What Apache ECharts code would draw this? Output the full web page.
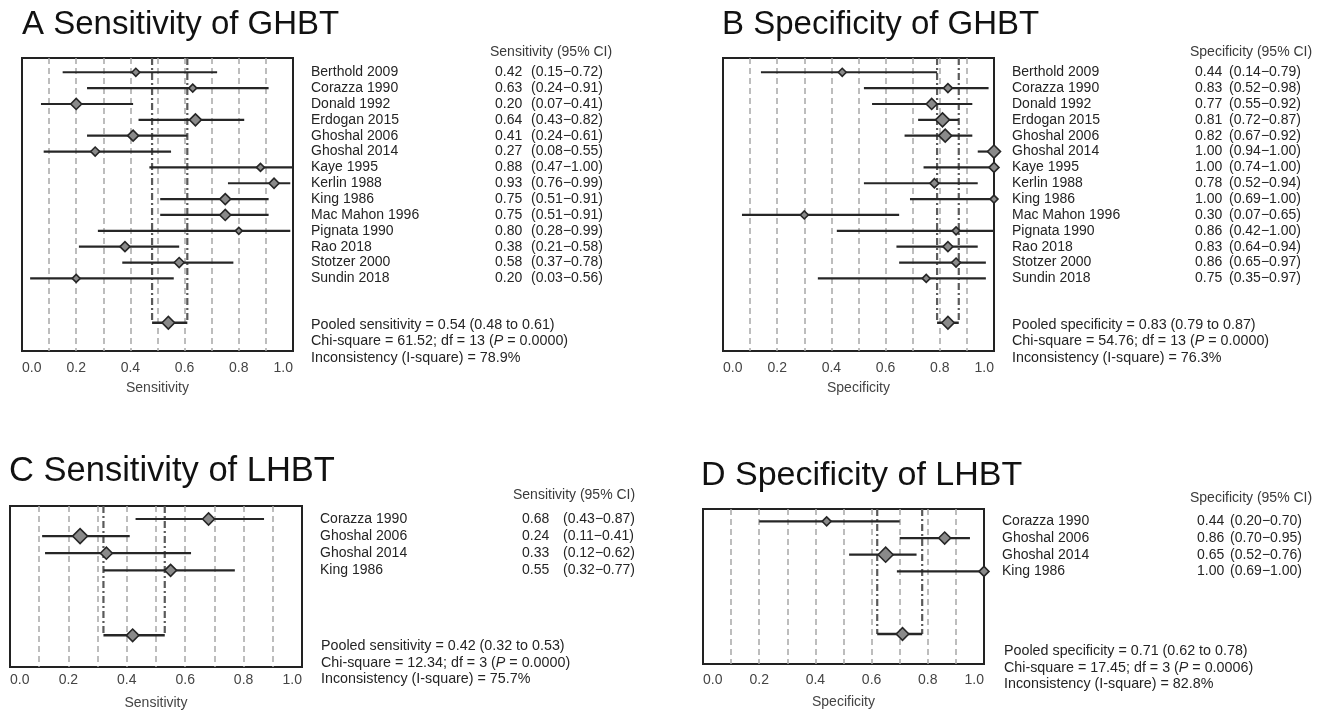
<!DOCTYPE html>
<html>
<head>
<meta charset="utf-8">
<script src="https://cdn.jsdelivr.net/npm/echarts@6/dist/echarts.min.js"></script>
<style>
  html, body { margin: 0; padding: 0; background: #fff; }
  #main { width: 1333px; height: 714px; }
</style>
</head>
<body>
<div id="main"></div>
<script>
// GHBT studies (panels A and B)
const studiesGHBT = ['Berthold 2009', 'Corazza 1990', 'Donald 1992', 'Erdogan 2015', 'Ghoshal 2006',
  'Ghoshal 2014', 'Kaye 1995', 'Kerlin 1988', 'King 1986', 'Mac Mahon 1996', 'Pignata 1990',
  'Rao 2018', 'Stotzer 2000', 'Sundin 2018'];
const sensGHBT = [0.42, 0.63, 0.20, 0.64, 0.41, 0.27, 0.88, 0.93, 0.75, 0.75, 0.80, 0.38, 0.58, 0.20];
const sensGHBTLow = [0.15, 0.24, 0.07, 0.43, 0.24, 0.08, 0.47, 0.76, 0.51, 0.51, 0.28, 0.21, 0.37, 0.03];
const sensGHBTHigh = [0.72, 0.91, 0.41, 0.82, 0.61, 0.55, 1.00, 0.99, 0.91, 0.91, 0.99, 0.58, 0.78, 0.56];
const sensGHBTWeight = [1, 1, 2.5, 3, 2.5, 1.5, 1, 2, 2.5, 2.5, 0.5, 2, 2, 1];
const specGHBT = [0.44, 0.83, 0.77, 0.81, 0.82, 1.00, 1.00, 0.78, 1.00, 0.30, 0.86, 0.83, 0.86, 0.75];
const specGHBTLow = [0.14, 0.52, 0.55, 0.72, 0.67, 0.94, 0.74, 0.52, 0.69, 0.07, 0.42, 0.64, 0.65, 0.35];
const specGHBTHigh = [0.79, 0.98, 0.92, 0.87, 0.92, 1.00, 1.00, 0.94, 1.00, 0.65, 1.00, 0.94, 0.97, 0.97];
const specGHBTWeight = [1, 1.5, 2.5, 4, 3.5, 3.5, 2, 1.5, 1, 1, 1, 2, 1.5, 1];

// LHBT studies (panels C and D)
const studiesLHBT = ['Corazza 1990', 'Ghoshal 2006', 'Ghoshal 2014', 'King 1986'];
const sensLHBT = [0.68, 0.24, 0.33, 0.55];
const sensLHBTLow = [0.43, 0.11, 0.12, 0.32];
const sensLHBTHigh = [0.87, 0.41, 0.62, 0.77];
const sensLHBTWeight = [3, 4.5, 3, 3];
const specLHBT = [0.44, 0.86, 0.65, 1.00];
const specLHBTLow = [0.20, 0.70, 0.52, 0.69];
const specLHBTHigh = [0.70, 0.95, 0.76, 1.00];
const specLHBTWeight = [1.5, 3, 4.5, 2];

// pooled estimate, lower, upper
const pooledA = [0.54, 0.48, 0.61];
const pooledB = [0.83, 0.79, 0.87];
const pooledC = [0.42, 0.32, 0.53];
const pooledD = [0.71, 0.62, 0.78];
// chi-square, df, P, I-square
const statsA = ['61.52', 13, '0.0000', '78.9'];
const statsB = ['54.76', 13, '0.0000', '76.3'];
const statsC = ['12.34', 3, '0.0000', '75.7'];
const statsD = ['17.45', 3, '0.0006', '82.8'];

const xTicks = [0, 0.2, 0.4, 0.6, 0.8, 1.0];

const FONT = "'Liberation Sans', Arial, Helvetica, sans-serif";
const INK = '#262626';
const TXT = '#242424';

const panels = [
  { title: 'A Sensitivity of GHBT', measure: 'Sensitivity', names: studiesGHBT,
    est: sensGHBT, lo: sensGHBTLow, hi: sensGHBTHigh, w: sensGHBTWeight, pooled: pooledA, stats: statsA,
    grid: { left: 22, top: 58, width: 271, height: 293 }, yMin: -0.9, yMax: 17.58, pooledRow: 15.8,
    titlePos: [22, 25], titleSize: 33, labelMargin: 10, nameGap: 30, nameW: 184, valW: 36,
    headPos: [490, 52], sumPos: [311, 325], sumStep: 16.5 },
  { title: 'B Specificity of GHBT', measure: 'Specificity', names: studiesGHBT,
    est: specGHBT, lo: specGHBTLow, hi: specGHBTHigh, w: specGHBTWeight, pooled: pooledB, stats: statsB,
    grid: { left: 723, top: 58, width: 271, height: 293 }, yMin: -0.9, yMax: 17.58, pooledRow: 15.8,
    titlePos: [722, 25], titleSize: 33, labelMargin: 10, nameGap: 30, nameW: 183, valW: 34,
    headPos: [1190, 52], sumPos: [1012, 325], sumStep: 16.5 },
  { title: 'C Sensitivity of LHBT', measure: 'Sensitivity', names: studiesLHBT,
    est: sensLHBT, lo: sensLHBTLow, hi: sensLHBTHigh, w: sensLHBTWeight, pooled: pooledC, stats: statsC,
    grid: { left: 10, top: 506, width: 292, height: 161 }, yMin: -0.76, yMax: 8.65, pooledRow: 6.8,
    titlePos: [9, 471], titleSize: 34.5, labelMargin: 6, nameGap: 29, nameW: 202, valW: 41,
    headPos: [513, 495], sumPos: [321, 646.5], sumStep: 16.3 },
  { title: 'D Specificity of LHBT', measure: 'Specificity', names: studiesLHBT,
    est: specLHBT, lo: specLHBTLow, hi: specLHBTHigh, w: specLHBTWeight, pooled: pooledD, stats: statsD,
    grid: { left: 703, top: 509, width: 281, height: 155 }, yMin: -0.74, yMax: 8.55, pooledRow: 6.75,
    titlePos: [701, 476], titleSize: 34, labelMargin: 9, nameGap: 31, nameW: 195, valW: 33,
    headPos: [1190, 498], sumPos: [1004, 651.5], sumStep: 16.3 }
];

const fmt = v => v.toFixed(2);

function diamond(c, h) {
  return [[c[0] - h, c[1]], [c[0], c[1] - h], [c[0] + h, c[1]], [c[0], c[1] + h]];
}

function textAt(x, y, text) {
  return { type: 'text', x: x, y: y,
    style: { text: text, font: '14px ' + FONT, fill: TXT, verticalAlign: 'middle' } };
}

function studyRenderer(p) {
  return function (params, api) {
    const i = params.dataIndex;
    const row = api.value(3);
    const pL = api.coord([api.value(1), row]);
    const pR = api.coord([api.value(2), row]);
    const c = api.coord([api.value(0), row]);
    const edge = api.coord([1, row]);
    const h = 3 + api.value(4);
    const tx = edge[0] + 18;
    return {
      type: 'group',
      children: [
        { type: 'line', shape: { x1: pL[0], y1: pL[1], x2: pR[0], y2: pR[1] },
          style: { stroke: INK, lineWidth: 2.2 } },
        { type: 'polygon', shape: { points: diamond(c, h) },
          style: { fill: '#8a8a8a', stroke: INK, lineWidth: 1.6 } },
        textAt(tx, c[1], p.names[i]),
        textAt(tx + p.nameW, c[1], fmt(api.value(0))),
        textAt(tx + p.nameW + p.valW, c[1], '(' + fmt(api.value(1)) + '\u2212' + fmt(api.value(2)) + ')')
      ]
    };
  };
}

function pooledItem(params, api) {
  const row = api.value(3);
  const top = api.value(4);
  const pL = api.coord([api.value(1), row]);
  const pR = api.coord([api.value(2), row]);
  const tL = api.coord([api.value(1), top]);
  const tR = api.coord([api.value(2), top]);
  const c = api.coord([api.value(0), row]);
  const dash = { stroke: '#5a5a5a', lineWidth: 2.2, lineDash: [7, 3, 2, 3] };
  return {
    type: 'group',
    children: [
      { type: 'line', shape: { x1: tL[0], y1: tL[1], x2: pL[0], y2: pL[1] }, style: dash },
      { type: 'line', shape: { x1: tR[0], y1: tR[1], x2: pR[0], y2: pR[1] }, style: dash },
      { type: 'line', shape: { x1: pL[0], y1: pL[1], x2: pR[0], y2: pR[1] },
        style: { stroke: INK, lineWidth: 2.5 } },
      { type: 'polygon', shape: { points: diamond(c, 6.3) },
        style: { fill: '#8a8a8a', stroke: INK, lineWidth: 1.6 } }
    ]
  };
}

const grid = [], xAxis = [], yAxis = [], series = [], graphic = [];

panels.forEach((p, k) => {
  grid.push(Object.assign({ show: true, borderColor: '#222', borderWidth: 2, backgroundColor: 'transparent' }, p.grid));
  xAxis.push({
    type: 'value', gridIndex: k, min: 0, max: 1, interval: 0.1,
    name: p.measure, nameLocation: 'middle', nameGap: p.nameGap,
    nameTextStyle: { fontFamily: FONT, fontSize: 14, color: '#444' },
    axisLine: { show: false }, axisTick: { show: false },
    axisLabel: {
      margin: p.labelMargin, fontFamily: FONT, fontSize: 14, color: '#444',
      alignMinLabel: 'left', alignMaxLabel: 'right',
      formatter: v => xTicks.some(t => Math.abs(t - v) < 1e-6) ? v.toFixed(1) : ''
    },
    splitLine: { show: true, showMinLine: false, showMaxLine: false,
      lineStyle: { color: '#a8a8a8', width: 1.5, type: [6, 4] } }
  });
  yAxis.push({ type: 'value', gridIndex: k, inverse: true, min: p.yMin, max: p.yMax, show: false });

  series.push({
    type: 'custom', xAxisIndex: k, yAxisIndex: k, silent: true, z: 3, clip: false,
    renderItem: studyRenderer(p), encode: { x: [0, 1, 2], y: 3 },
    data: p.names.map((n, i) => [p.est[i], p.lo[i], p.hi[i], i, p.w[i]])
  });
  series.push({
    type: 'custom', xAxisIndex: k, yAxisIndex: k, silent: true, z: 2,
    renderItem: pooledItem, encode: { x: [0, 1, 2], y: 3 },
    data: [[p.pooled[0], p.pooled[1], p.pooled[2], p.pooledRow, p.yMin]]
  });

  graphic.push({ type: 'text', silent: true, x: p.titlePos[0], y: p.titlePos[1],
    style: { text: p.title, font: p.titleSize + 'px ' + FONT, fill: '#111', verticalAlign: 'middle' } });
  graphic.push({ type: 'text', silent: true, x: p.headPos[0], y: p.headPos[1],
    style: { text: p.measure + ' (95% CI)', font: '14px ' + FONT, fill: '#3a3a3a', verticalAlign: 'middle' } });

  const lines = [
    'Pooled ' + p.measure.toLowerCase() + ' = ' + fmt(p.pooled[0]) + ' (' + fmt(p.pooled[1]) + ' to ' + fmt(p.pooled[2]) + ')',
    'Chi-square = ' + p.stats[0] + '; df = ' + p.stats[1] + ' ({i|P} = ' + p.stats[2] + ')',
    'Inconsistency (I-square) = ' + p.stats[3] + '%'
  ];
  lines.forEach((t, j) => {
    graphic.push({ type: 'text', silent: true, x: p.sumPos[0], y: p.sumPos[1] + j * p.sumStep,
      style: { text: t, font: '14.3px ' + FONT, fill: TXT, verticalAlign: 'middle',
        rich: { i: { fontStyle: 'italic', fontFamily: FONT, fontSize: 14.3, fill: TXT } } } });
  });
});

const chart = echarts.init(document.getElementById('main'), null, { renderer: 'canvas' });
chart.setOption({
  backgroundColor: '#fff',
  animation: false,
  textStyle: { fontFamily: FONT },
  grid, xAxis, yAxis, series, graphic
});
</script>
</body>
</html>
